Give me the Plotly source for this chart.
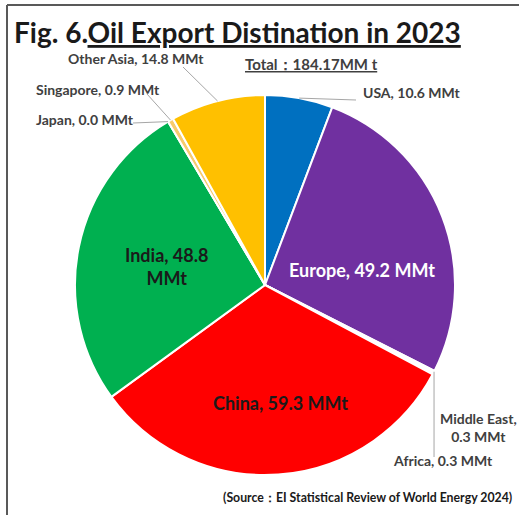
import numpy as np
import plotly.graph_objects as go

# Oil export destinations, 2023 (million tonnes), clockwise from 12 o'clock
regions = ["USA", "Europe", "Middle East", "Africa", "China", "India",
           "Japan", "Singapore", "Other Asia"]
volumes = [10.6, 49.2, 0.3, 0.3, 59.3, 48.8, 0.0, 0.9, 14.8]
colors = ["#0070C0", "#7030A0", "#A5A5A5", "#5B9BD5", "#FF0000", "#00B050",
          "#70AD47", "#F8CB6D", "#FFC000"]
total_label = "184.17MM t"

W, H = 519, 515
CX, CY, R = 265, 285, 190          # pie centre and radius in pixels
FONT = "Lato"
LABEL_COLOR = "#404040"
LEADER = "#A6A6A6"


def px(x):
    return x / W


def py(y):
    return 1 - y / H


vals = np.array(volumes, dtype=float)
cum = np.cumsum(vals) - vals
mid_frac = (cum + vals / 2) / vals.sum()


def edge_point(i, k=1.0):
    ang = 2 * np.pi * mid_frac[i]
    return CX + R * k * np.sin(ang), CY - R * k * np.cos(ang)


fig = go.Figure(go.Pie(
    labels=regions,
    values=volumes,
    sort=False,
    direction="clockwise",
    rotation=0,
    marker=dict(colors=colors, line=dict(color="white", width=2)),
    textinfo="none",
    hoverinfo="label+value",
    showlegend=False,
    domain=dict(x=[px(CX - R), px(CX + R)], y=[py(CY + R), py(CY - R)]),
))

annotations = []
shapes = []


def label(text, x, y, size=14, color=LABEL_COLOR, anchor="center"):
    annotations.append(dict(
        text=text, x=px(x), y=py(y), xref="paper", yref="paper",
        xanchor=anchor, yanchor="middle", showarrow=False,
        font=dict(family=FONT, size=size, color=color),
    ))


def leader(i, x1, y1):
    x0, y0 = edge_point(i)
    shapes.append(dict(type="line", xref="paper", yref="paper",
                       x0=px(x0), y0=py(y0), x1=px(x1), y1=py(y1),
                       line=dict(color=LEADER, width=1)))


def fmt(i):
    return f"{regions[i]}, {volumes[i]:.1f} MMt"


# Title and total
label("<b>Fig. 6.<u>Oil Export Distination in 2023</u></b>", 12, 32,
      size=28, color="#1a1a1a", anchor="left")
label(f"<b><u>Total：{total_label}</u></b>", 243, 64, size=15,
      color=LABEL_COLOR, anchor="left")

# Labels inside the large slices
label(f"<b>{fmt(1)}</b>", 362, 270, size=18, color="white")
label(f"<b>{fmt(4)}</b>", 280, 403, size=18, color="#1a1a1a")
label(f"<b>{regions[5]}, {volumes[5]:.1f}<br>MMt</b>", 166, 266, size=18,
      color="#1a1a1a")

# Outside labels with leader lines
label(f"<b>{fmt(0)}</b>", 361, 93, anchor="left")
leader(0, 356, 100)
label(f"<b>{fmt(8)}</b>", 136, 59)
leader(8, 183, 67)
label(f"<b>{fmt(7)}</b>", 34, 89, anchor="left")
leader(7, 147, 94)
label(f"<b>{fmt(6)}</b>", 34, 119, anchor="left")
leader(6, 133, 123)
label(f"<b>{regions[2]},<br>{volumes[2]:.1f} MMt</b>", 478, 427)
label(f"<b>{fmt(3)}</b>", 443, 460)
x_me, y_me = edge_point(2)
shapes.append(dict(type="line", xref="paper", yref="paper",
                   x0=px(x_me), y0=py(y_me), x1=px(x_me), y1=py(457),
                   line=dict(color=LEADER, width=1)))

# Source note
label("<b>(Source：EI Statistical Review of World Energy 2024)</b>", 367, 497,
      size=12.3, color="#1a1a1a")

# Frame lines along the top and left edges
shapes.append(dict(type="line", xref="paper", yref="paper",
                   x0=px(7), y0=py(5), x1=1, y1=py(5),
                   line=dict(color="#595959", width=2)))
shapes.append(dict(type="line", xref="paper", yref="paper",
                   x0=px(7), y0=py(5), x1=px(7), y1=0,
                   line=dict(color="#595959", width=2)))

fig.update_layout(
    width=W, height=H,
    margin=dict(l=0, r=0, t=0, b=0),
    paper_bgcolor="white",
    plot_bgcolor="white",
    annotations=annotations,
    shapes=shapes,
)

fig.write_html("out.html")
